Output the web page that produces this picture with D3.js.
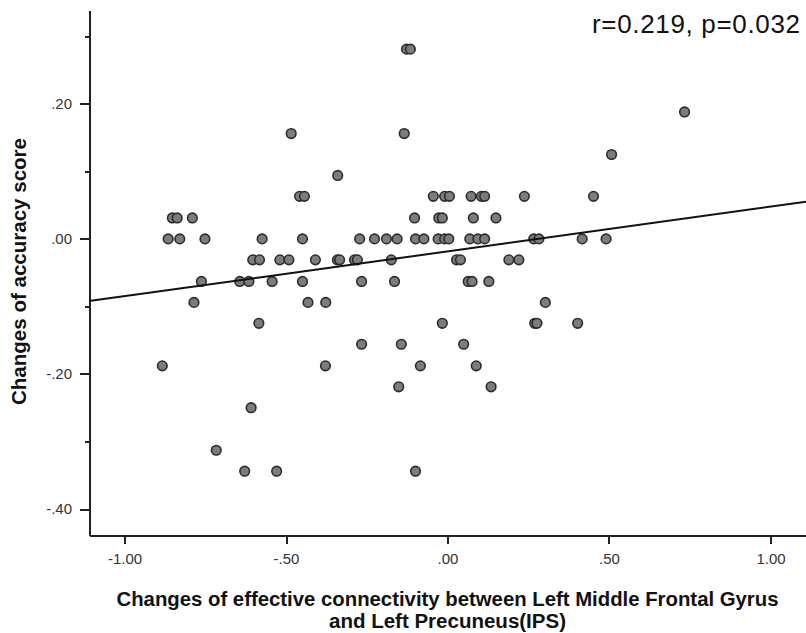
<!DOCTYPE html>
<html>
<head>
<meta charset="utf-8">
<script src="https://cdn.jsdelivr.net/npm/d3@7"></script>
<style>
    body { margin: 0; background: #fff; }
    svg { display: block; font-family: "Liberation Sans", Arial, sans-serif; }
    .axis path, .axis line { stroke: #222; stroke-width: 2; shape-rendering: crispEdges; }
    .axis text { font-size: 15px; fill: #333; }
    .dot { fill: #7c7c7c; stroke: #2b2b2b; stroke-width: 1.6; }
    .fit { fill: none; stroke: #111; stroke-width: 2; }
    .title { font-weight: bold; font-size: 20px; fill: #111; }
    .stat { font-size: 26px; fill: #111; }
</style>
</head>
<body>
<svg id="chart" width="806" height="633"></svg>
<script>
// change of effective connectivity (x) and change of accuracy score (y), grouped by y level
const connectivity = [
    -0.127, -0.115,
    0.734,
    -0.484, -0.134,
    0.508,
    -0.340,
    -0.458, -0.443, -0.044, -0.009, 0.006, 0.073, 0.105, 0.115, 0.238, 0.452,
    -0.852, -0.837, -0.790, -0.102, -0.027, -0.016, 0.080, 0.150,
    -0.865, -0.829, -0.751, -0.574, -0.449, -0.272, -0.226, -0.189, -0.156, -0.099, -0.073,
    -0.029, -0.009, 0.004, 0.069, 0.094, 0.115, 0.267, 0.283, 0.417, 0.491,
    -0.603, -0.582, -0.519, -0.491, -0.409, -0.341, -0.334, -0.288, -0.279, -0.174, 0.028,
    0.040, 0.190, 0.221,
    -0.762, -0.643, -0.615, -0.543, -0.449, -0.266, -0.164, 0.064, 0.076, 0.128,
    -0.785, -0.432, -0.377, 0.303,
    -0.584, -0.016, 0.270, 0.277, 0.403,
    -0.266, -0.143, 0.050,
    -0.883, -0.378, -0.084, 0.089,
    -0.151, 0.135,
    -0.608,
    -0.716,
    -0.628, -0.529, -0.099
];
const accuracyChange = [
    0.281, 0.281,
    0.188,
    0.156, 0.156,
    0.125,
    0.094,
    0.063, 0.063, 0.063, 0.063, 0.063, 0.063, 0.063, 0.063, 0.063, 0.063,
    0.031, 0.031, 0.031, 0.031, 0.031, 0.031, 0.031, 0.031,
    0, 0, 0, 0, 0, 0, 0, 0, 0, 0, 0,
    0, 0, 0, 0, 0, 0, 0, 0, 0, 0,
    -0.031, -0.031, -0.031, -0.031, -0.031, -0.031, -0.031, -0.031, -0.031, -0.031, -0.031,
    -0.031, -0.031, -0.031,
    -0.063, -0.063, -0.063, -0.063, -0.063, -0.063, -0.063, -0.063, -0.063, -0.063,
    -0.094, -0.094, -0.094, -0.094,
    -0.125, -0.125, -0.125, -0.125, -0.125,
    -0.156, -0.156, -0.156,
    -0.188, -0.188, -0.188, -0.188,
    -0.219, -0.219,
    -0.25,
    -0.313,
    -0.344, -0.344, -0.344
];

// fitted line end points
const fitX = [-1.11, 1.11];
const fitY = [-0.092, 0.055];

const xTicks = [-1, -0.5, 0, 0.5, 1];
const yTicks = [-0.4, -0.2, 0, 0.2];
const yMinorTicks = [-0.3, -0.1, 0.1, 0.3];

const xTitle = ["Changes of effective connectivity between Left Middle Frontal Gyrus",
                "and Left Precuneus(IPS)"];
const yTitle = "Changes of accuracy score";
const statText = "r=0.219, p=0.032";

const svg = d3.select('#chart');
const plot = { left: 89, right: 806, top: 10, bottom: 535 };

const x = d3.scaleLinear().domain([-1.11, 1.11]).range([plot.left, plot.right]);
const y = d3.scaleLinear().domain([-0.4385, 0.339]).range([plot.bottom, plot.top]);

// SPSS style labels: ".50", "-.20" (plain hyphen, no leading zero)
const locale = d3.formatLocale({ decimal: '.', thousands: ',', grouping: [3], currency: ['', ''], minus: '-' });
const fmt = v => locale.format('.2f')(v).replace(/^(-?)0\./, '$1.');

svg.append('g')
    .attr('class', 'axis')
    .attr('transform', `translate(0,${plot.bottom})`)
    .call(d3.axisBottom(x).tickValues(xTicks).tickFormat(fmt).tickSize(9).tickSizeOuter(0).tickPadding(9));

svg.append('g')
    .attr('class', 'axis')
    .attr('transform', `translate(${plot.left},0)`)
    .call(d3.axisLeft(y).tickValues(yMinorTicks).tickFormat('').tickSize(4).tickSizeOuter(0));

svg.append('g')
    .attr('class', 'axis')
    .attr('transform', `translate(${plot.left},0)`)
    .call(d3.axisLeft(y).tickValues(yTicks).tickFormat(fmt).tickSize(9).tickSizeOuter(0).tickPadding(8));

const pts = connectivity.map((c, i) => ({ x: c, y: accuracyChange[i] }));

svg.append('g').selectAll('circle')
    .data(pts)
    .enter()
    .append('circle')
    .attr('class', 'dot')
    .attr('cx', d => x(d.x))
    .attr('cy', d => y(d.y))
    .attr('r', 4.8);

svg.append('path')
    .datum(fitX.map((v, i) => [v, fitY[i]]))
    .attr('class', 'fit')
    .attr('d', d3.line().x(d => x(d[0])).y(d => y(d[1])));

svg.append('text')
    .attr('class', 'stat')
    .attr('x', 800)
    .attr('y', 33)
    .attr('text-anchor', 'end')
    .attr('textLength', 208)
    .text(statText);

svg.append('text')
    .attr('class', 'title')
    .attr('x', x(0))
    .attr('y', 606)
    .attr('text-anchor', 'middle')
    .attr('textLength', 662)
    .attr('lengthAdjust', 'spacingAndGlyphs')
    .text(xTitle[0]);

svg.append('text')
    .attr('class', 'title')
    .attr('x', x(0))
    .attr('y', 628)
    .attr('text-anchor', 'middle')
    .attr('textLength', 237)
    .attr('lengthAdjust', 'spacingAndGlyphs')
    .text(xTitle[1]);

svg.append('text')
    .attr('class', 'title')
    .attr('transform', `translate(26,${(138 + 405) / 2}) rotate(-90)`)
    .attr('text-anchor', 'middle')
    .attr('textLength', 267)
    .attr('lengthAdjust', 'spacingAndGlyphs')
    .text(yTitle);
</script>
</body>
</html>
